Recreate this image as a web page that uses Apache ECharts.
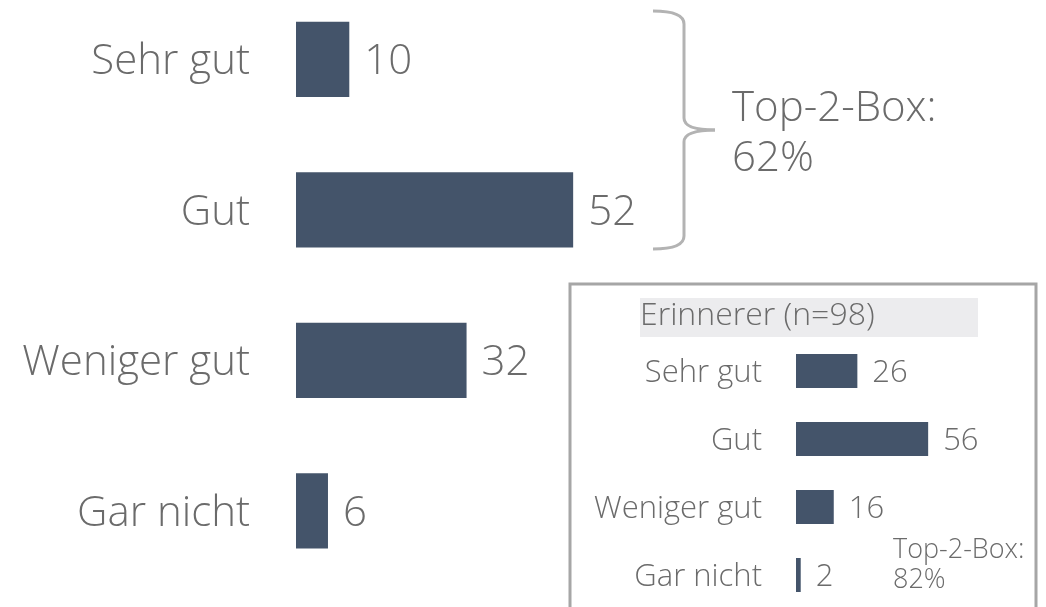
<!DOCTYPE html>
<html>
<head>
<meta charset="utf-8">
<script src="https://cdn.jsdelivr.net/npm/echarts@6/dist/echarts.min.js"></script>
<style>
  html, body { margin: 0; padding: 0; background: #fff; }
  #chart { width: 1046px; height: 607px; }
</style>
</head>
<body>
<div id="chart"></div>
<script>
// Daten
const categories = ['Sehr gut', 'Gut', 'Weniger gut', 'Gar nicht']
const gesamtValues = [10, 52, 32, 6]
const erinnererValues = [26, 56, 16, 2]
const insetTitle = 'Erinnerer (n=98)'
const top2Main = 'Top-2-Box:\n62%'
const top2Inset = 'Top-2-Box:\n82%'

const barColor = '#44546a'
const textColor = '#6b6b6b'
const font = 'Open Sans'

const chart = echarts.init(document.getElementById('chart'))

// Klammer aus Linien und Kurven
const braceStyle = { fill: null, stroke: '#b3b3b3', lineWidth: 3 }
function curve(x1, y1, cx, cy, x2, y2) {
  return { type: 'bezierCurve', z: 10, shape: { x1, y1, cpx1: cx, cpy1: cy, x2, y2 }, style: braceStyle }
}
function line(x1, y1, x2, y2) {
  return { type: 'line', z: 10, shape: { x1, y1, x2, y2 }, style: braceStyle }
}

const option = {
  animation: false,
  grid: [
    { left: 296, top: -16, width: 533, height: 602, outerBoundsMode: 'none', containLabel: false },
    { left: 796, top: 337, width: 236, height: 272, outerBoundsMode: 'none', containLabel: false }
  ],
  xAxis: [
    { gridIndex: 0, type: 'value', min: 0, max: 100, show: false },
    { gridIndex: 1, type: 'value', min: 0, max: 100, show: false }
  ],
  yAxis: [
    {
      gridIndex: 0, type: 'category', data: categories, inverse: true,
      axisLine: { show: false }, axisTick: { show: false },
      axisLabel: {
        margin: 46, color: textColor,
        formatter: (v) => '{a|' + v + '}',
        rich: { a: { fontSize: 42, padding: [6, 0, 0, 0], color: textColor, fontFamily: font, fontWeight: 300 } }
      }
    },
    {
      gridIndex: 1, type: 'category', data: categories, inverse: true,
      axisLine: { show: false }, axisTick: { show: false },
      axisLabel: {
        margin: 34, color: textColor,
        formatter: (v) => '{a|' + v + '}',
        rich: { a: { fontSize: 31, padding: [4, 0, 0, 0], color: textColor, fontFamily: font, fontWeight: 300 } }
      }
    }
  ],
  series: [
    {
      type: 'bar', xAxisIndex: 0, yAxisIndex: 0, data: gesamtValues,
      barWidth: '50%', itemStyle: { color: barColor },
      label: { show: true, position: 'right', distance: 15, offset: [0, 3], fontSize: 42, color: textColor, fontFamily: font, fontWeight: 300 }
    },
    {
      type: 'bar', xAxisIndex: 1, yAxisIndex: 1, data: erinnererValues,
      barWidth: '50%', itemStyle: { color: barColor },
      label: { show: true, position: 'right', distance: 15, offset: [0, 2], fontSize: 31, color: textColor, fontFamily: font, fontWeight: 300 }
    }
  ],
  graphic: [
    curve(653, 11, 684, 11, 684, 24),
    line(684, 24, 684, 118),
    curve(684, 118, 684, 130, 715, 130),
    curve(715, 130, 684, 130, 684, 142),
    line(684, 142, 684, 236),
    curve(684, 236, 684, 249, 653, 249),
    {
      type: 'text', left: 732, top: 84, z: 10,
      style: { text: top2Main, fontSize: 42, lineHeight: 50, fill: textColor, fontFamily: font, fontWeight: 300 }
    },
    // Kasten
    {
      type: 'rect', z: 1,
      shape: { x: 570, y: 284, width: 466, height: 340 },
      style: { fill: 'transparent', stroke: '#a6a6a6', lineWidth: 3 }
    },
    {
      type: 'rect', z: 1,
      shape: { x: 640, y: 298, width: 338, height: 39 },
      style: { fill: '#ececee' }
    },
    {
      type: 'text', left: 640, top: 300, z: 3,
      style: { text: insetTitle, fontSize: 32, fill: textColor, fontFamily: font, fontWeight: 300 }
    },
    {
      type: 'text', left: 893, top: 535, z: 3,
      style: { text: top2Inset, fontSize: 27, lineHeight: 30, fill: textColor, fontFamily: font, fontWeight: 300 }
    }
  ]
}

chart.setOption(option)
</script>
</body>
</html>
